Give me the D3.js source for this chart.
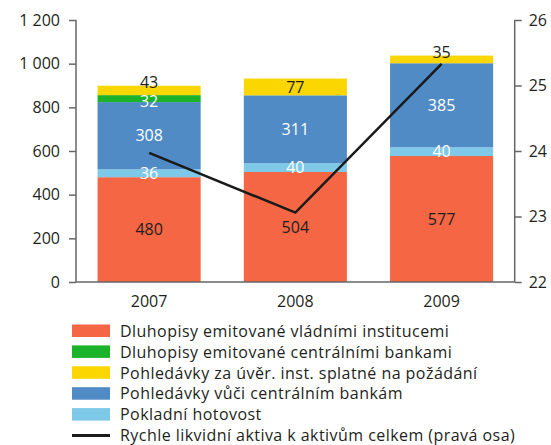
<!DOCTYPE html>
<html>
<head>
<meta charset="utf-8">
<script src="https://cdn.jsdelivr.net/npm/d3@7"></script>
<style>
  body { margin: 0; background: #fff; }
  svg { font-family: "Open Sans", sans-serif; }
</style>
</head>
<body>
<div id="chart"></div>
<script>
// data
const years = ['2007', '2008', '2009']
const seriesNames = [
  'Dluhopisy emitované vládními institucemi',
  'Pokladní hotovost',
  'Pohledávky vůči centrálním bankám',
  'Dluhopisy emitované centrálními bankami',
  'Pohledávky za úvěr. inst. splatné na požádání'
]
const govBonds = [480, 504, 577]
const cash = [36, 40, 40]
const cbClaims = [308, 311, 385]
const cbBonds = [32, 0, 0]
const demandClaims = [43, 77, 35]
const liquidRatio = [23.97, 23.06, 25.33]
const lineName = 'Rychle likvidní aktiva k aktivům celkem (pravá osa)'

const leftTicks = [0, 200, 400, 600, 800, 1000, 1200]
const rightTicks = [22, 23, 24, 25, 26]

const colors = ['#f46644', '#7dc9e7', '#518bc6', '#1bb32a', '#fcd600']
const labelColors = ['#231f20', '#fff', '#fff', '#fff', '#231f20']
// legend order differs from stack order
const legendOrder = [0, 3, 4, 2, 1]

const width = 551, height = 445
const svg = d3.select('#chart').append('svg')
  .attr('width', width)
  .attr('height', height)

const x0 = 76, x1 = 514.7, yTop = 20, yBot = 282

const x = d3.scaleBand().domain(years).range([x0, x1]).paddingInner(0.295).paddingOuter(0.1475)
const y = d3.scaleLinear().domain([0, 1200]).range([yBot, yTop])
const y2 = d3.scaleLinear().domain([22, 26]).range([yBot, yTop])

const values = [govBonds, cash, cbClaims, cbBonds, demandClaims]
const table = years.map((yr, i) => {
  const row = { year: yr }
  seriesNames.forEach((n, k) => row[n] = values[k][i])
  return row
})
const stacked = d3.stack().keys(seriesNames)(table)

const g = svg.append('g')

stacked.forEach((layer, k) => {
  g.selectAll(null)
    .data(layer.filter(d => d[1] - d[0] > 0))
    .join('rect')
    .attr('x', d => x(d.data.year))
    .attr('width', x.bandwidth())
    .attr('y', d => y(d[1]))
    .attr('height', d => y(d[0]) - y(d[1]))
    .attr('fill', colors[k])
})

// value labels, small top segments get their label sitting on top
stacked.forEach((layer, k) => {
  const isTop = k === stacked.length - 1
  const small = d => isTop && (y(d[0]) - y(d[1])) < 12
  g.selectAll(null)
    .data(layer.filter(d => d[1] - d[0] > 0))
    .join('text')
    .attr('x', d => x(d.data.year) + x.bandwidth() / 2)
    .attr('y', d => small(d) ? y(d[1]) + 2 : (y(d[0]) + y(d[1])) / 2)
    .attr('dy', d => small(d) ? 0 : (k === 3 ? '0.5em' : '0.36em'))
    .attr('text-anchor', 'middle')
    .attr('font-size', 16)
    .attr('fill', labelColors[k])
    .text(d => d[1] - d[0])
})

// axes
const axisColor = '#666'
const textColor = '#231f20'

const leftAxis = svg.append('g')
  .attr('transform', `translate(${x0},0)`)
  .call(d3.axisLeft(y).tickValues(leftTicks).tickSize(7).tickPadding(9)
    .tickFormat(d => d3.format(',')(d).replace(',', ' ')))
const rightAxis = svg.append('g')
  .attr('transform', `translate(${x1},0)`)
  .call(d3.axisRight(y2).tickValues(rightTicks).tickSize(7).tickPadding(7)
    .tickFormat(d3.format('d')))

;[leftAxis, rightAxis].forEach(a => {
  a.select('.domain').attr('stroke', axisColor).attr('stroke-width', 1.5)
    .attr('d', `M0,${yTop}V${yBot}`)
  a.selectAll('.tick line').attr('stroke', axisColor).attr('stroke-width', 1.5)
  a.selectAll('.tick text').attr('font-size', 16).attr('fill', textColor)
  a.attr('font-family', null)
})

// baseline
svg.append('line')
  .attr('x1', x0).attr('x2', x1)
  .attr('y1', yBot).attr('y2', yBot)
  .attr('stroke', axisColor).attr('stroke-width', 1.5)

svg.append('g').selectAll('text')
  .data(years)
  .join('text')
  .attr('x', d => x(d) + x.bandwidth() / 2)
  .attr('y', 301)
  .attr('dy', '0.36em')
  .attr('text-anchor', 'middle')
  .attr('font-size', 16)
  .attr('fill', textColor)
  .text(d => d)

// line on right axis
const line = d3.line()
  .x((d, i) => x(years[i]) + x.bandwidth() / 2)
  .y(d => y2(d))
svg.append('path')
  .datum(liquidRatio)
  .attr('d', line)
  .attr('fill', 'none')
  .attr('stroke', '#1a1a1a')
  .attr('stroke-width', 2.5)

// legend
const legend = svg.append('g').attr('transform', 'translate(72,331)')
const rowH = 20.9
const legendText = sel => sel
  .attr('x', 48).attr('dy', '0.36em')
  .attr('font-size', 16)
  .attr('letter-spacing', 0.45)
  .attr('fill', textColor)
legendOrder.forEach((k, i) => {
  const row = legend.append('g').attr('transform', `translate(0,${i * rowH})`)
  row.append('rect')
    .attr('x', 0).attr('y', -6.5)
    .attr('width', 38).attr('height', 12.5)
    .attr('fill', colors[k])
  row.append('text').call(legendText).text(seriesNames[k])
})
const lrow = legend.append('g').attr('transform', `translate(0,${5 * rowH})`)
lrow.append('line')
  .attr('x1', 0).attr('x2', 38)
  .attr('stroke', '#1a1a1a').attr('stroke-width', 3)
lrow.append('text').call(legendText).text(lineName)
</script>
</body>
</html>
